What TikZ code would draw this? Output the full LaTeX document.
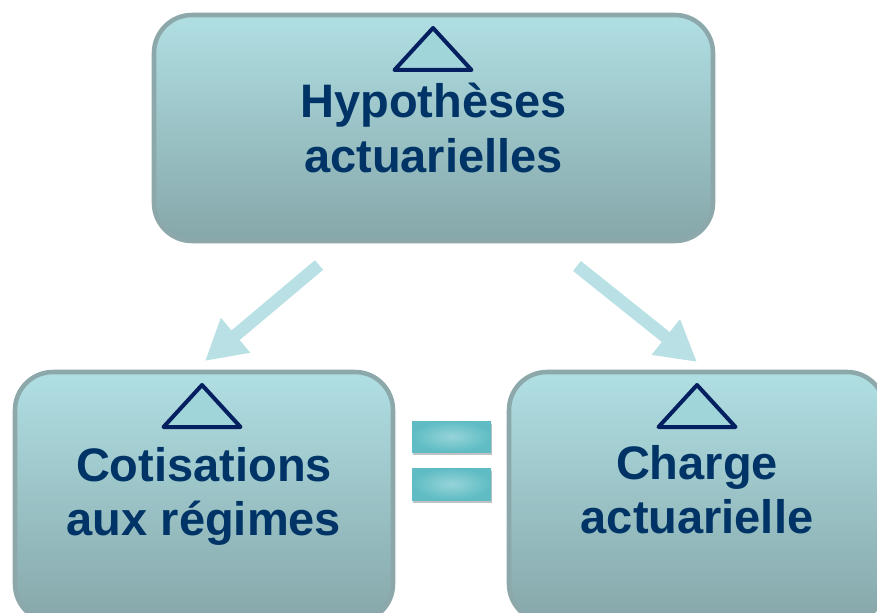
\documentclass[tikz,border=0pt]{standalone}
\usepackage{fontspec}
\setmainfont{Liberation Sans}
\usetikzlibrary{positioning}
\usetikzlibrary{arrows.meta,shadows,calc}
\usepackage{xcolor}

\definecolor{paneltop}{RGB}{176,223,227}
\definecolor{panelbottom}{RGB}{134,167,170}
\definecolor{panelline}{RGB}{141,168,170}
\definecolor{navytext}{RGB}{0,51,102}
\definecolor{deltaline}{RGB}{5,32,96}
\definecolor{deltafill}{RGB}{160,213,218}
\definecolor{arrowteal}{RGB}{185,225,229}
\definecolor{barinner}{RGB}{150,212,216}
\definecolor{barouter}{RGB}{95,188,196}

\begin{document}
\begin{tikzpicture}[x=0.75pt,y=-0.75pt,
  panel/.style={draw=panelline, line width=3.4pt, rounded corners=28.5pt,
    top color=paneltop, bottom color=panelbottom, inner sep=0pt},
  caption/.style={text=navytext, font=\fontsize{35.25}{40.5}\selectfont\bfseries,
    align=center, anchor=base, inner sep=0pt},
  delta/.style={draw=deltaline, fill=deltafill, line width=3pt, line join=round},
  flow/.style={draw=arrowteal, line width=9.5pt,
    -{Triangle[width=32pt,length=30pt]}},
  eqbar/.style={inner sep=0pt, inner color=barinner, outer color=barouter,
    drop shadow={shadow xshift=1pt, shadow yshift=-2.5pt, opacity=0.35, fill=black!70}}]

\useasboundingbox (0,0) rectangle (877,613);
\clip (0,0) rectangle (877,613);

% boxes
\node[panel, minimum width=419.25pt, minimum height=169.5pt] (hyp) at (433.5,128) {};
\node[panel, minimum width=283.5pt, minimum height=187.5pt] (cotis) at (204,497) {};
\node[panel, minimum width=282pt, minimum height=187.5pt] (charge) at (697,497) {};

% delta signs
\foreach \cx/\cy in {433/28, 202/385, 697/385}
  \draw[delta] (\cx-38.5,\cy+42) -- (\cx,\cy) -- (\cx+38.5,\cy+42) -- cycle;

% texts (anchored on the last line)
\node[caption] (hyptext) at (433.5,172) {Hypothèses\\actuarielles};
\node[caption] (cotistext) at (204,535) {Cotisations\\aux régimes};
\node[caption] (chargetext) at (697,533) {Charge\\actuarielle};

% arrows
\coordinate (lstart) at (319,265);
\coordinate (lend) at (205,361);
\coordinate (rstart) at (577,266);
\coordinate (rend) at (697,362);
\draw[flow] (lstart) -- (lend);
\draw[flow] (rstart) -- (rend);

% equals sign
\node[eqbar, minimum width=59.25pt, minimum height=23.25pt] (eqtop) at (451.5,436.5) {};
\node[eqbar, minimum width=59.25pt, minimum height=24pt] (eqbottom) at (451.5,484) {};

\end{tikzpicture}
\end{document}
